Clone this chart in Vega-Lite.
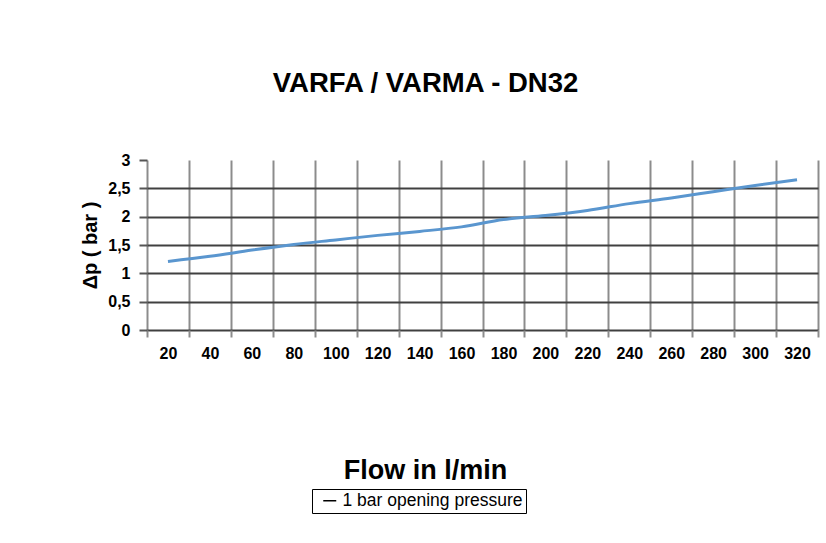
{
  "$schema": "https://vega.github.io/schema/vega-lite/v6.json",
  "autosize": {"type": "none"},
  "width": 671,
  "height": 170,
  "padding": {"left": 147, "top": 160, "right": 8, "bottom": 213},
  "background": "white",
  "title": {
    "text": "VARFA / VARMA - DN32",
    "font": "Liberation Sans",
    "fontSize": 27.5,
    "fontWeight": "bold",
    "color": "black",
    "anchor": "middle",
    "baseline": "alphabetic",
    "dx": -57,
    "offset": 33
  },
  "data": {
    "values": [
      {"flow": 20, "dp": 1.21},
      {"flow": 40, "dp": 1.30},
      {"flow": 60, "dp": 1.41},
      {"flow": 80, "dp": 1.51},
      {"flow": 100, "dp": 1.59},
      {"flow": 120, "dp": 1.67},
      {"flow": 140, "dp": 1.74},
      {"flow": 160, "dp": 1.82},
      {"flow": 180, "dp": 1.95},
      {"flow": 200, "dp": 2.02},
      {"flow": 220, "dp": 2.11},
      {"flow": 240, "dp": 2.23},
      {"flow": 260, "dp": 2.33},
      {"flow": 280, "dp": 2.44},
      {"flow": 300, "dp": 2.55},
      {"flow": 320, "dp": 2.65}
    ]
  },
  "encoding": {
    "x": {
      "field": "flow",
      "type": "quantitative",
      "scale": {"domain": [10, 330], "nice": false, "zero": false},
      "axis": {
        "title": "Flow in l/min",
        "titleFont": "Liberation Sans",
        "titleFontSize": 27,
        "titleFontWeight": "bold",
        "titleColor": "black",
        "titlePadding": 96,
        "titleX": 278,
        "values": [10, 20, 30, 40, 50, 60, 70, 80, 90, 100, 110, 120, 130, 140, 150, 160, 170, 180, 190, 200, 210, 220, 230, 240, 250, 260, 270, 280, 290, 300, 310, 320, 330],
        "labelExpr": "datum.value % 20 === 0 ? datum.label : ''",
        "labelFont": "Liberation Sans",
        "labelFontSize": 16,
        "labelFontWeight": "bold",
        "labelColor": "black",
        "labelPadding": 8,
        "labelOverlap": false,
        "labelFlush": false,
        "domain": false,
        "grid": true,
        "gridColor": "#8c8c8c",
        "gridWidth": 2,
        "gridOpacity": {"condition": {"test": "datum.value % 20 === 10", "value": 1}, "value": 0},
        "ticks": true,
        "tickSize": 7,
        "tickColor": "#8c8c8c",
        "tickWidth": 2,
        "tickOpacity": {"condition": {"test": "datum.value % 20 === 10", "value": 1}, "value": 0}
      }
    },
    "y": {
      "field": "dp",
      "type": "quantitative",
      "scale": {"domain": [0, 3], "nice": false},
      "axis": {
        "title": "Δp ( bar )",
        "titleFont": "Liberation Sans",
        "titleFontSize": 20,
        "titleFontWeight": "bold",
        "titleColor": "black",
        "titlePadding": 7,
        "values": [0, 0.5, 1, 1.5, 2, 2.5, 3],
        "labelExpr": "replace(format(datum.value, '~g'), '.', ',')",
        "labelFont": "Liberation Sans",
        "labelFontSize": 16,
        "labelFontWeight": "bold",
        "labelColor": "black",
        "labelPadding": 9,
        "domain": false,
        "grid": true,
        "gridColor": "#404040",
        "gridWidth": 2,
        "gridOpacity": {"condition": {"test": "datum.value === 3", "value": 0}, "value": 1},
        "tickSize": 8,
        "tickColor": "#555555",
        "tickWidth": 2
      }
    }
  },
  "layer": [
    {
      "mark": {"type": "line", "strokeWidth": 3, "interpolate": "monotone", "color": "#5a96cf"}
    },
    {
      "transform": [{"filter": "datum.flow === 20"}],
      "mark": {"type": "line", "strokeWidth": 1.5},
      "encoding": {
        "color": {
          "datum": "1 bar opening pressure",
          "scale": {"range": ["black"]},
          "legend": {
            "title": null,
            "orient": "none",
            "legendX": 165,
            "legendY": 329,
            "direction": "horizontal",
            "padding": 3,
            "strokeColor": "black",
            "symbolType": "stroke",
            "symbolSize": 169,
            "symbolStrokeWidth": 1.5,
            "symbolOffset": 6,
            "labelFont": "Liberation Sans",
            "labelFontSize": 17.5,
            "labelColor": "black",
            "labelOffset": 4,
            "labelLimit": 300
          }
        }
      }
    }
  ],
  "config": {
    "view": {"stroke": null}
  }
}
